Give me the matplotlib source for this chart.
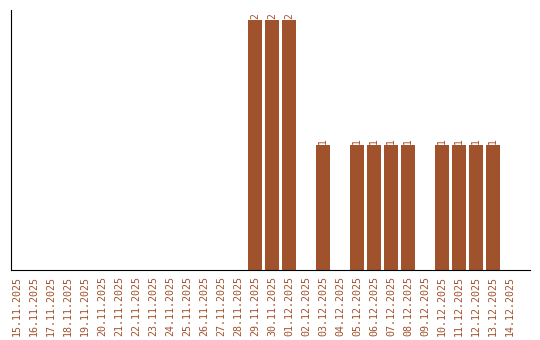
import matplotlib
matplotlib.use("Agg")
import matplotlib.pyplot as plt

dates = ["15.11.2025", "16.11.2025", "17.11.2025", "18.11.2025", "19.11.2025",
         "20.11.2025", "21.11.2025", "22.11.2025", "23.11.2025", "24.11.2025",
         "25.11.2025", "26.11.2025", "27.11.2025", "28.11.2025", "29.11.2025",
         "30.11.2025", "01.12.2025", "02.12.2025", "03.12.2025", "04.12.2025",
         "05.12.2025", "06.12.2025", "07.12.2025", "08.12.2025", "09.12.2025",
         "10.12.2025", "11.12.2025", "12.12.2025", "13.12.2025", "14.12.2025"]
counts = [0, 0, 0, 0, 0, 0, 0, 0, 0, 0, 0, 0, 0, 0, 2,
          2, 2, 0, 1, 0, 1, 1, 1, 1, 0, 1, 1, 1, 1, 0]

color = "#A0522D"
plt.rcParams['font.family'] = ['DejaVu Sans Mono']

fig = plt.figure(figsize=(5.4, 3.4), dpi=100)
ax = fig.add_axes([11/540, 70/340, 519/540, 260/340])

x = list(range(len(dates)))
bars = ax.bar(x, counts, width=0.82, color=color)
for xi, v in zip(x, counts):
    if v > 0:
        ax.text(xi, v + 0.01, str(v), rotation=90, ha="center", va="bottom",
                fontsize=7, color=color)

ax.set_xlim(-0.35, 30.17)
ax.set_ylim(0, 2.08)
ax.set_xticks(x)
ax.set_xticklabels(dates, rotation=90, fontsize=7.2, color=color)
ax.tick_params(axis="x", length=0, pad=4)
ax.set_yticks([])
ax.spines["top"].set_visible(False)
ax.spines["right"].set_visible(False)

fig.savefig("out.png", dpi=100)
